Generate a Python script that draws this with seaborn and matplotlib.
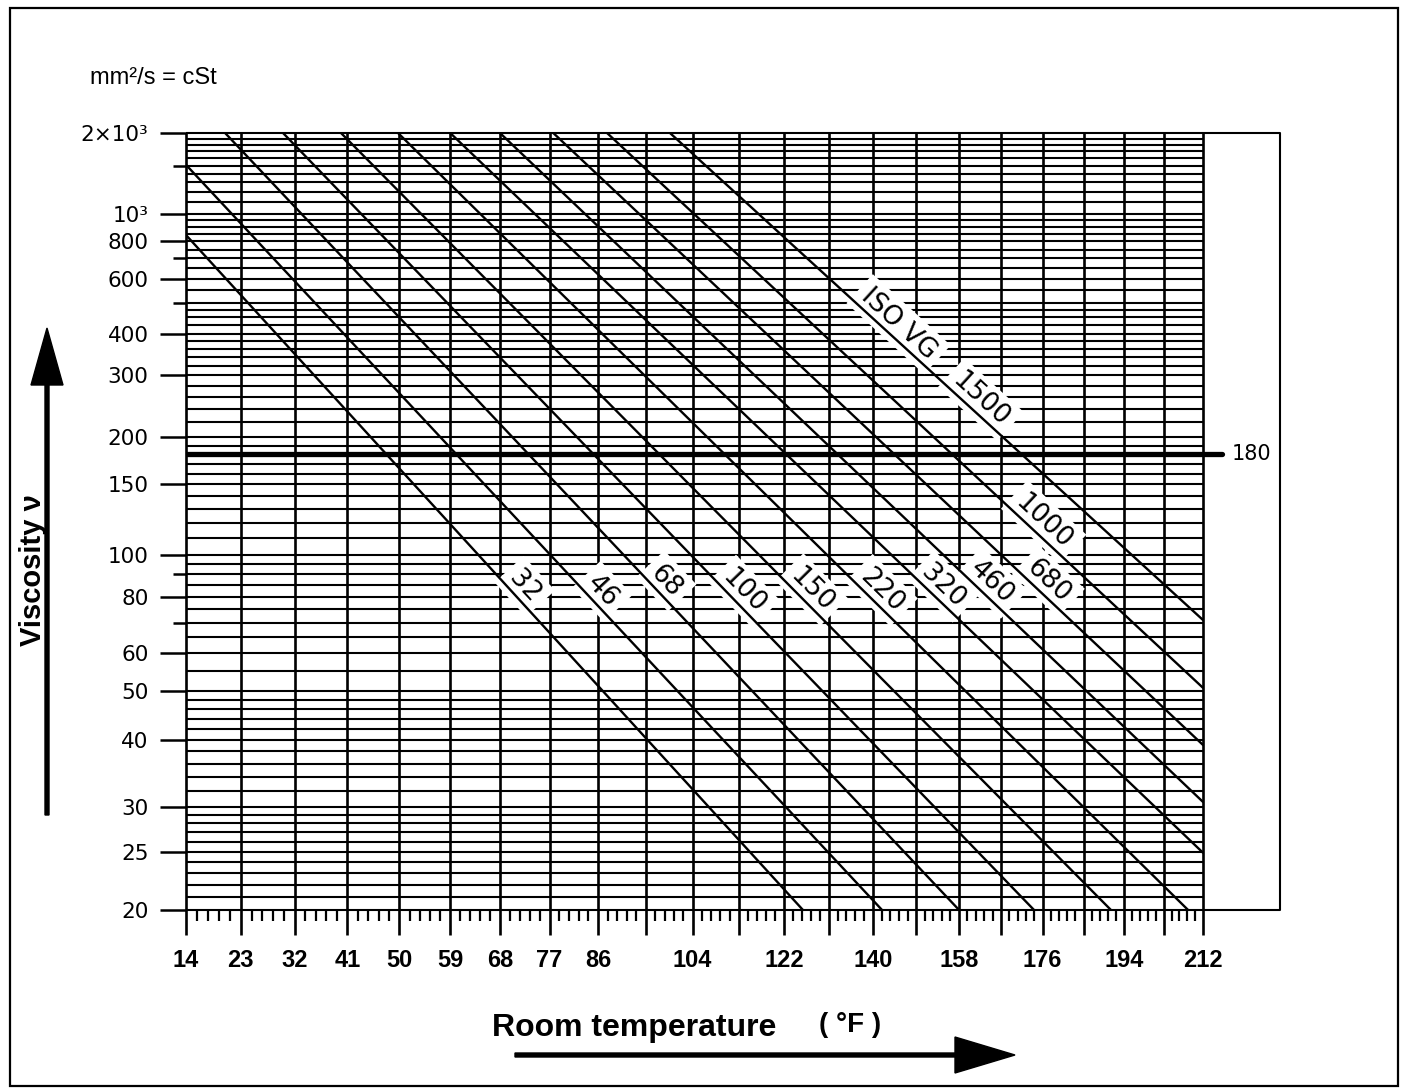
import numpy as np
import pandas as pd
import matplotlib
matplotlib.use("Agg")
import matplotlib.pyplot as plt
import seaborn as sns
from matplotlib.patches import FancyArrow, Rectangle

# ISO VG grade lines: viscosity (mm2/s) where each line meets 14 F and 212 F
# (lines carried on past the frame where needed)
grades = ["32", "46", "68", "100", "150", "220", "320", "460", "680", "1000", "1500"]
nu_14F = [842, 1510, 2930, 5220, 9390, 16800, 28300, 50300, 93700, 178000, 373000]
nu_212F = [5.38, 6.82, 8.62, 11.05, 14.4, 18.95, 24.9, 30.6, 39.1, 50.8, 70.9]
# temperature (F) along each line where its number is written
label_temp = [70.7, 85.0, 97.1, 112.2, 125.7, 139.9, 152.8, 163.0, 175.3, 174.3, 160.8]
iso_vg_temp = 143.5

# axes
temp_labels = [14, 23, 32, 41, 50, 59, 68, 77, 86, 104, 122, 140, 158, 176, 194, 212]
temp_grid = np.arange(14, 213, 9)          # every 5 C
temp_minor = np.arange(14, 212.1, 1.8)     # every 1 C
visc_ticks = [20, 25, 30, 40, 50, 60, 80, 100, 150, 200, 300, 400, 600, 800, 1000, 2000]
visc_tick_labels = ["20", "25", "30", "40", "50", "60", "80", "100", "150", "200",
                    "300", "400", "600", "800", "10³", "2×10³"]
visc_mid_ticks = [70, 90, 500, 700, 1500]
visc_grid = [20, 21, 22, 23, 24, 25, 26, 27, 28, 29, 30, 32, 34, 36, 38, 40, 42, 44, 46, 48,
             50, 55, 60, 65, 70, 75, 80, 85, 90, 95, 100, 110, 120, 130, 140, 150, 160, 170,
             180, 190, 200, 220, 240, 260, 280, 300, 320, 340, 360, 380, 400, 425, 450, 475,
             500, 550, 600, 650, 700, 750, 800, 850, 900, 950, 1000, 1100, 1200, 1300, 1400,
             1500, 1600, 1700, 1800, 1900, 2000]
marked_visc = 180


# ASTM style chart: x = log(absolute T), y = log log(nu + 0.7)
def temp_fwd(f):
    f = np.asarray(f, dtype=float)
    return np.log10(np.clip((f - 32) / 1.8 + 273.15, 1e-6, None))


def temp_inv(x):
    return (10 ** np.asarray(x, dtype=float) - 273.15) * 1.8 + 32


def visc_fwd(v):
    v = np.asarray(v, dtype=float)
    return np.log10(np.log10(np.clip(v + 0.7, 1.0001, None)))


def visc_inv(y):
    return 10 ** (10 ** np.asarray(y, dtype=float)) - 0.7


sns.set_style("ticks")
plt.rcParams["font.family"] = ["DejaVu Sans"]
plt.rcParams["text.color"] = "black"
plt.rcParams["xtick.color"] = "black"
plt.rcParams["ytick.color"] = "black"
plt.rcParams["axes.labelcolor"] = "black"

fig = plt.figure(figsize=(14.07, 10.91), dpi=100)
ax = fig.add_axes([186 / 1407, 181 / 1091, 1017 / 1407, 777 / 1091])
ax.set_xscale("function", functions=(temp_fwd, temp_inv))
ax.set_yscale("function", functions=(visc_fwd, visc_inv))

# grid
ax.vlines(temp_grid, 20, 2000, color="black", lw=1.9, zorder=2, clip_on=False)
ax.hlines(visc_grid, 14, 212, color="black", lw=1.5, zorder=2, clip_on=False)

# grade lines
rows = []
for g, a, b in zip(grades, nu_14F, nu_212F):
    rows.append({"grade": g, "temp": 14, "nu": a})
    rows.append({"grade": g, "temp": 212, "nu": b})
df = pd.DataFrame(rows)
sns.lineplot(data=df, x="temp", y="nu", units="grade", estimator=None,
             color="black", lw=1.7, zorder=5, ax=ax)

ax.set_xlim(14, 212)
ax.set_ylim(20, 2000)
ax.set_xlabel("")
ax.set_ylabel("")
for s in ax.spines.values():
    s.set_visible(False)

# ticks
ax.set_xticks(temp_grid)
ax.set_xticklabels([str(t) if t in temp_labels else "" for t in temp_grid],
                   fontfamily="Liberation Sans", fontweight="bold", fontsize=17)
ax.set_xticks([t for t in temp_minor if round(t - 14, 1) % 9 != 0], minor=True)
ax.tick_params(axis="x", which="major", length=18, width=1.9, direction="out", pad=10,
               bottom=True, color="black", labelcolor="black")
ax.tick_params(axis="x", which="minor", length=8, width=1.6, direction="out", bottom=True,
               color="black")

ax.set_yticks(visc_ticks)
ax.set_yticklabels(visc_tick_labels, fontsize=15.5)
ax.set_yticks(visc_mid_ticks, minor=True)
ax.set_yticklabels([], minor=True)
ax.tick_params(axis="y", which="major", length=19, width=1.8, direction="out", pad=8,
               left=True, color="black", labelcolor="black")
ax.tick_params(axis="y", which="minor", length=9.5, width=1.8, direction="out", left=True,
               color="black")

# box continued to the right of 212 F
bx = (1280 - 186) / 1017
ax.plot([1, bx, bx, 1], [2000, 2000, 20, 20], color="black", lw=1.5,
        transform=ax.get_yaxis_transform(), clip_on=False)

# marked 180 mm2/s line
ax.hlines(marked_visc, 14, 212, color="black", lw=3.8, zorder=3)
ax.plot([1, (1222 - 186) / 1017], [marked_visc, marked_visc], color="black", lw=3.8,
        transform=ax.get_yaxis_transform(), clip_on=False)
ax.text((1232 - 186) / 1017, marked_visc, str(marked_visc), transform=ax.get_yaxis_transform(),
        ha="left", va="center", fontsize=15)


# grade numbers written along their lines
def point_on(i, t):
    x14, x212 = temp_fwd(14), temp_fwd(212)
    y14, y212 = visc_fwd(nu_14F[i]), visc_fwd(nu_212F[i])
    y = y14 + (temp_fwd(t) - x14) / (x212 - x14) * (y212 - y14)
    return float(visc_inv(y))


def angle_of(i):
    p1 = ax.transData.transform((14, nu_14F[i]))
    p2 = ax.transData.transform((212, nu_212F[i]))
    return np.degrees(np.arctan2(p2[1] - p1[1], p2[0] - p1[0]))


box = dict(boxstyle="square,pad=0.25", fc="white", ec="none")
for i, g in enumerate(grades):
    ax.text(label_temp[i], point_on(i, label_temp[i]), g, rotation=angle_of(i),
            rotation_mode="anchor", ha="center", va="bottom", fontsize=19,
            color="black", bbox=box, zorder=4)
ax.text(iso_vg_temp, point_on(10, iso_vg_temp), "ISO VG", rotation=angle_of(10),
        rotation_mode="anchor", ha="center", va="bottom", fontsize=19, color="black",
        bbox=box, zorder=4)

# page furniture in pixel coordinates
ov = fig.add_axes([0, 0, 1, 1], zorder=-1)
ov.set_xlim(0, 1407)
ov.set_ylim(1091, 0)
ov.axis("off")
ov.add_patch(Rectangle((10, 8), 1388, 1078, fill=False, ec="black", lw=1.6))
ov.text(90, 78, "mm²/s = cSt", ha="left", va="center", fontsize=17,
        fontfamily="Liberation Sans")
ov.text(33, 570, "Viscosity ν", rotation=90, ha="center", va="center", fontsize=21,
        fontweight="bold", fontfamily="Liberation Sans")
ov.add_patch(FancyArrow(47, 815, 0, -487, width=4, head_width=32, head_length=57,
                        length_includes_head=True, color="black"))
ov.text(492, 1028, "Room temperature", ha="left", va="center", fontsize=23,
        fontweight="bold", fontfamily="Liberation Sans")
ov.text(850, 1025, "( °F )", ha="center", va="center", fontsize=20,
        fontweight="bold", fontfamily="Liberation Sans")
ov.add_patch(FancyArrow(515, 1055, 500, 0, width=4, head_width=36, head_length=60,
                        length_includes_head=True, color="black"))

fig.savefig("out.png", dpi=100)
